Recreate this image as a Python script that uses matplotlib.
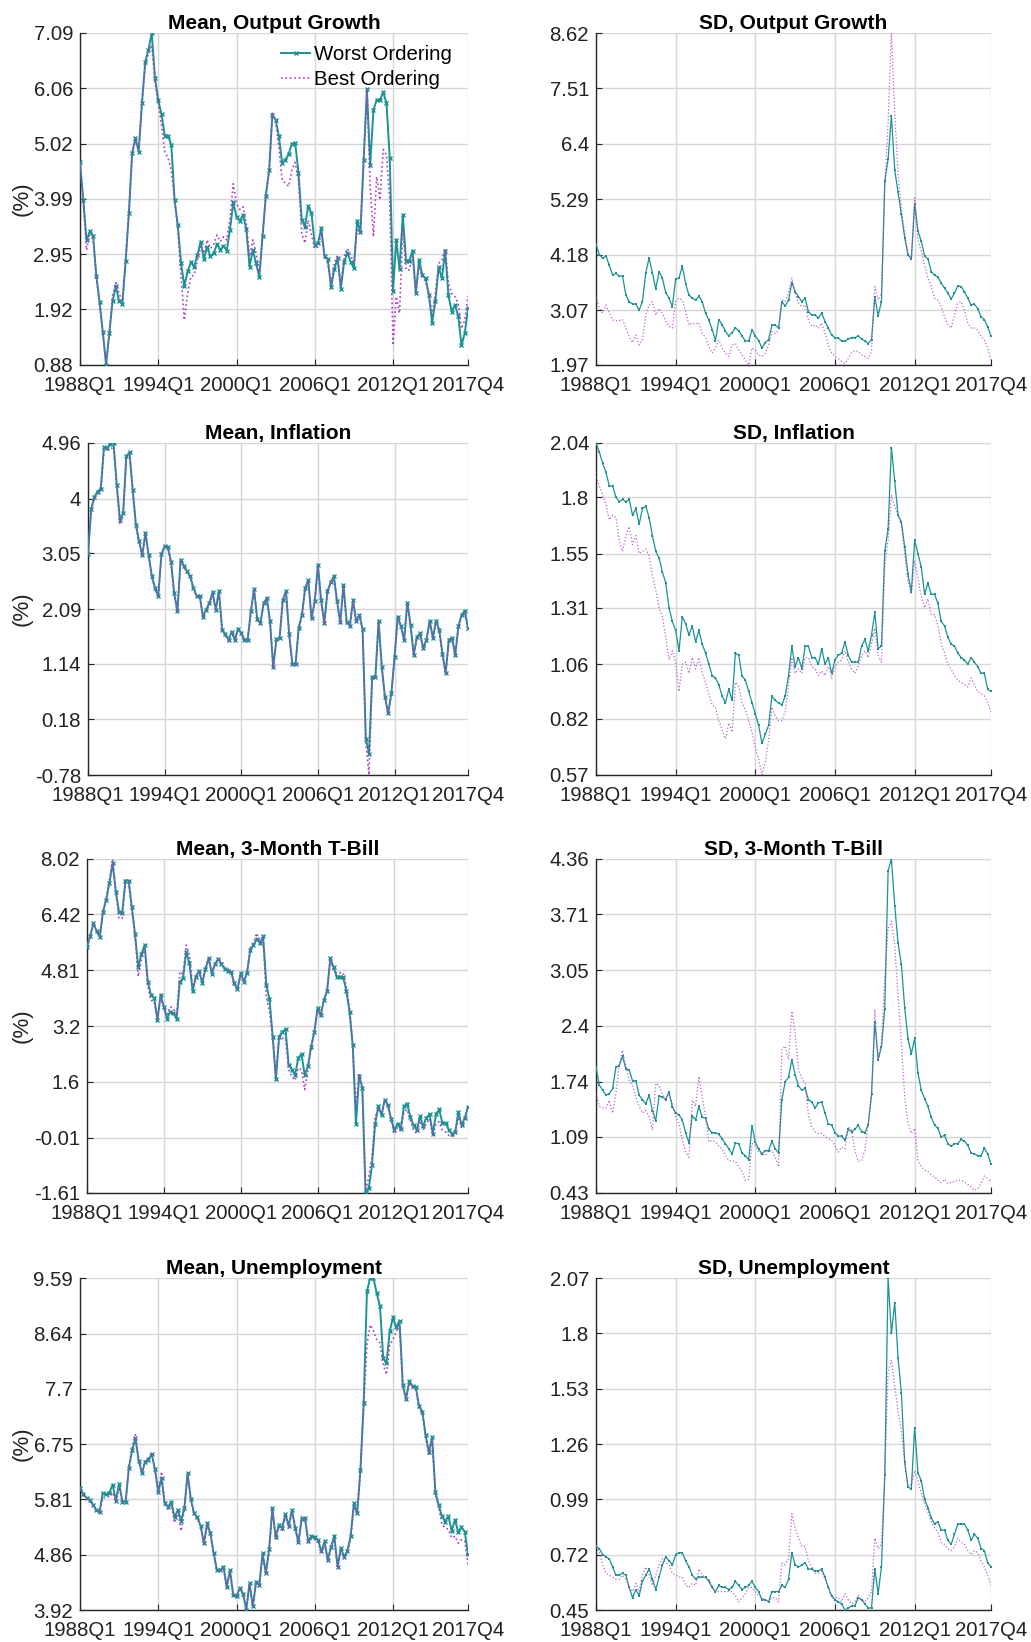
import numpy as np
import matplotlib
matplotlib.use("Agg")
import matplotlib.pyplot as plt

plt.rcParams['font.family'] = ['Liberation Sans', 'DejaVu Sans']

# quarterly sample 1988Q1 - 2017Q4
quarter_ticks = [0, 24, 48, 72, 96, 119]
quarter_labels = ['1988Q1', '1994Q1', '2000Q1', '2006Q1', '2012Q1', '2017Q4']

titles = ['Mean, Output Growth', 'SD, Output Growth',
          'Mean, Inflation', 'SD, Inflation',
          'Mean, 3-Month T-Bill', 'SD, 3-Month T-Bill',
          'Mean, Unemployment', 'SD, Unemployment']

ytick_labels = [
    ['0.88', '1.92', '2.95', '3.99', '5.02', '6.06', '7.09'],
    ['1.97', '3.07', '4.18', '5.29', '6.4', '7.51', '8.62'],
    ['-0.78', '0.18', '1.14', '2.09', '3.05', '4', '4.96'],
    ['0.57', '0.82', '1.06', '1.31', '1.55', '1.8', '2.04'],
    ['-1.61', '-0.01', '1.6', '3.2', '4.81', '6.42', '8.02'],
    ['0.43', '1.09', '1.74', '2.4', '3.05', '3.71', '4.36'],
    ['3.92', '4.86', '5.81', '6.75', '7.7', '8.64', '9.59'],
    ['0.45', '0.72', '0.99', '1.26', '1.53', '1.8', '2.07'],
]

# mean output growth
mog_worst = [4.67, 3.97, 3.21, 3.38, 3.30, 2.55, 2.06, 1.50, 0.88, 1.48,
             2.08, 2.35, 2.07, 2.03, 2.83, 3.73, 4.85, 5.12, 4.87, 5.78,
             6.55, 6.78, 7.09, 6.25, 5.83, 5.57, 5.17, 5.17, 5.00, 3.97,
             3.49, 2.78, 2.36, 2.63, 2.80, 2.72, 2.93, 3.19, 2.86, 3.09,
             2.91, 2.97, 3.14, 3.03, 3.11, 3.02, 3.41, 3.92, 3.65, 3.58,
             3.68, 3.43, 2.72, 3.03, 2.78, 2.53, 3.30, 4.05, 4.52, 5.56,
             5.47, 5.16, 4.66, 4.72, 4.83, 5.02, 5.03, 4.48, 3.60, 3.47,
             3.85, 3.72, 3.13, 3.16, 3.44, 2.91, 2.86, 2.33, 2.67, 2.88,
             2.31, 2.80, 2.98, 2.81, 2.69, 3.58, 3.36, 4.72, 6.04, 4.62,
             5.65, 5.84, 5.84, 5.98, 5.78, 4.75, 2.27, 3.22, 2.67, 3.69,
             2.83, 2.83, 3.02, 2.23, 2.85, 2.56, 2.50, 2.19, 1.67, 2.08,
             2.71, 2.50, 3.02, 2.18, 1.88, 2.00, 1.80, 1.25, 1.47, 1.94]
mog_best = [4.67, 3.97, 3.03, 3.34, 3.28, 2.53, 2.03, 1.47, 0.91, 1.47,
            2.19, 2.42, 2.22, 2.07, 2.84, 3.72, 4.84, 5.09, 4.90, 5.78,
            6.47, 6.72, 6.87, 6.18, 5.78, 5.37, 4.87, 4.75, 4.53, 3.97,
            3.41, 2.53, 1.72, 2.22, 2.53, 2.56, 2.84, 3.09, 2.97, 3.22,
            3.06, 3.13, 3.31, 3.19, 3.28, 3.22, 3.62, 4.27, 3.89, 3.79,
            3.84, 3.53, 2.91, 3.22, 2.97, 2.61, 3.27, 4.09, 4.47, 5.59,
            5.44, 4.94, 4.34, 4.28, 4.22, 4.53, 4.67, 4.34, 3.34, 3.16,
            3.59, 3.31, 3.06, 3.09, 3.34, 2.91, 2.78, 2.41, 2.78, 2.94,
            2.38, 2.91, 3.06, 2.94, 2.78, 3.44, 3.34, 4.72, 6.03, 4.22,
            3.28, 4.40, 3.97, 4.91, 4.81, 3.97, 1.25, 2.16, 1.85, 3.41,
            2.66, 2.66, 2.91, 2.22, 2.72, 2.53, 2.44, 2.22, 1.82, 2.22,
            2.78, 2.84, 3.06, 2.41, 2.22, 2.16, 2.03, 1.56, 1.72, 2.17]

# sd output growth
sog_worst = [4.39, 4.18, 4.11, 4.15, 3.97, 3.77, 3.81, 3.75, 3.75, 3.37,
             3.24, 3.19, 3.19, 3.07, 3.24, 3.82, 4.11, 3.82, 3.49, 3.84,
             3.71, 3.42, 3.31, 3.14, 3.69, 3.71, 3.95, 3.60, 3.37, 3.31,
             3.27, 3.35, 3.24, 3.01, 2.87, 2.68, 2.46, 2.88, 2.78, 2.65,
             2.55, 2.62, 2.72, 2.65, 2.55, 2.45, 2.45, 2.68, 2.55, 2.46,
             2.31, 2.42, 2.48, 2.77, 2.77, 2.71, 3.24, 3.15, 3.27, 3.62,
             3.44, 3.34, 3.24, 3.31, 3.04, 2.97, 2.97, 2.91, 3.01, 2.84,
             2.71, 2.57, 2.52, 2.51, 2.45, 2.45, 2.49, 2.52, 2.52, 2.55,
             2.49, 2.45, 2.40, 2.48, 3.33, 2.96, 3.24, 5.65, 6.09, 6.96,
             5.87, 5.43, 4.99, 4.52, 4.18, 4.09, 5.20, 4.65, 4.45, 4.15,
             4.10, 3.84, 3.77, 3.73, 3.61, 3.51, 3.41, 3.29, 3.41, 3.55,
             3.54, 3.44, 3.31, 3.17, 3.19, 3.10, 2.93, 2.88, 2.73, 2.55]
sog_best = [3.34, 3.10, 3.01, 3.17, 3.01, 2.87, 2.86, 2.86, 2.88, 2.71,
            2.54, 2.42, 2.57, 2.37, 2.47, 2.97, 3.17, 3.24, 2.97, 3.10,
            3.01, 2.84, 2.74, 2.71, 3.24, 3.31, 3.27, 3.04, 2.77, 2.81,
            2.79, 2.82, 2.60, 2.52, 2.34, 2.21, 2.31, 2.47, 2.31, 2.21,
            2.14, 2.37, 2.40, 2.27, 2.17, 2.07, 1.97, 2.31, 2.27, 2.17,
            2.14, 2.21, 2.37, 2.64, 2.60, 2.67, 3.27, 3.24, 3.41, 3.71,
            3.41, 3.21, 3.14, 3.17, 2.87, 2.74, 2.77, 2.71, 2.81, 2.60,
            2.37, 2.21, 2.14, 2.10, 2.04, 2.00, 2.10, 2.22, 2.26, 2.24,
            2.17, 2.14, 2.10, 2.24, 3.54, 3.27, 3.41, 5.55, 6.82, 8.62,
            7.01, 5.81, 5.08, 4.61, 4.21, 4.08, 5.32, 4.48, 4.24, 3.98,
            3.71, 3.54, 3.31, 3.27, 3.14, 2.94, 2.77, 2.71, 2.97, 3.21,
            3.24, 3.07, 2.81, 2.71, 2.71, 2.67, 2.54, 2.47, 2.31, 2.08]

# mean inflation
minf_worst = [3.04, 3.82, 4.03, 4.12, 4.17, 4.89, 4.87, 4.95, 4.96, 4.24,
              3.63, 3.75, 4.73, 4.80, 4.15, 3.55, 3.26, 3.02, 3.41, 3.02,
              2.66, 2.45, 2.31, 3.04, 3.18, 3.16, 2.91, 2.36, 2.05, 2.94,
              2.84, 2.74, 2.66, 2.46, 2.32, 2.31, 1.96, 2.08, 2.19, 2.38,
              2.08, 2.40, 1.73, 1.66, 1.56, 1.70, 1.56, 1.75, 1.67, 1.56,
              1.56, 2.05, 2.44, 1.91, 1.85, 2.19, 2.28, 1.88, 1.08, 1.57,
              1.59, 2.25, 2.40, 1.65, 1.14, 1.14, 1.77, 1.99, 2.45, 2.59,
              1.93, 2.22, 2.85, 2.24, 1.85, 2.40, 2.55, 2.66, 2.22, 1.86,
              2.51, 1.86, 1.80, 2.24, 1.88, 1.99, 1.74, -0.15, -0.41, 0.92,
              0.92, 1.89, 1.09, 0.57, 0.29, 0.63, 1.26, 1.96, 1.79, 1.56,
              2.20, 1.82, 1.30, 1.61, 1.67, 1.41, 1.56, 1.89, 1.59, 1.89,
              1.73, 1.32, 0.98, 1.56, 1.59, 1.30, 1.79, 1.99, 2.06, 1.76]
minf_best = [3.04, 3.80, 4.00, 4.08, 4.12, 4.84, 4.84, 4.85, 4.90, 4.20,
             3.55, 3.70, 4.70, 4.78, 4.12, 3.52, 3.24, 3.00, 3.40, 3.00,
             2.64, 2.43, 2.30, 3.02, 3.16, 3.14, 2.89, 2.34, 2.03, 2.92,
             2.82, 2.72, 2.64, 2.44, 2.30, 2.30, 1.94, 2.06, 2.17, 2.36,
             2.06, 2.38, 1.71, 1.63, 1.53, 1.68, 1.54, 1.73, 1.65, 1.54,
             1.54, 2.03, 2.42, 1.89, 1.83, 2.17, 2.26, 1.86, 1.06, 1.55,
             1.57, 2.23, 2.38, 1.63, 1.12, 1.12, 1.75, 1.97, 2.43, 2.57,
             1.91, 2.20, 2.83, 2.22, 1.83, 2.38, 2.53, 2.64, 2.20, 1.84,
             2.49, 1.84, 1.78, 2.22, 1.86, 1.97, 1.72, -0.20, -0.78, 0.88,
             0.90, 1.87, 1.07, 0.55, 0.27, 0.61, 1.24, 1.94, 1.77, 1.54,
             2.18, 1.80, 1.28, 1.59, 1.65, 1.39, 1.54, 1.87, 1.57, 1.87,
             1.71, 1.30, 0.96, 1.54, 1.57, 1.28, 1.77, 1.97, 2.04, 1.74]

# sd inflation
sinf_worst = [2.04, 2.00, 1.95, 1.91, 1.85, 1.85, 1.80, 1.78, 1.79, 1.78,
              1.79, 1.72, 1.75, 1.68, 1.75, 1.76, 1.71, 1.63, 1.56, 1.53,
              1.47, 1.42, 1.31, 1.25, 1.21, 1.12, 1.27, 1.24, 1.19, 1.23,
              1.16, 1.21, 1.15, 1.11, 1.06, 1.01, 1.00, 0.97, 0.92, 0.89,
              0.95, 0.90, 1.11, 1.10, 1.01, 0.99, 0.94, 0.89, 0.84, 0.79,
              0.71, 0.75, 0.79, 0.92, 0.90, 0.89, 0.88, 0.92, 1.01, 1.14,
              1.05, 1.09, 1.04, 1.14, 1.14, 1.09, 1.09, 1.06, 1.13, 1.06,
              1.09, 1.02, 1.08, 1.10, 1.11, 1.16, 1.10, 1.07, 1.07, 1.07,
              1.14, 1.17, 1.12, 1.19, 1.29, 1.13, 1.14, 1.56, 1.66, 2.02,
              1.87, 1.72, 1.69, 1.58, 1.46, 1.38, 1.61, 1.55, 1.49, 1.37,
              1.42, 1.37, 1.37, 1.33, 1.25, 1.23, 1.18, 1.15, 1.14, 1.11,
              1.09, 1.08, 1.06, 1.09, 1.07, 1.05, 1.02, 1.02, 0.95, 0.94]
sinf_best = [1.89, 1.85, 1.81, 1.77, 1.70, 1.72, 1.71, 1.61, 1.56, 1.63,
             1.67, 1.59, 1.63, 1.55, 1.56, 1.57, 1.54, 1.45, 1.39, 1.31,
             1.27, 1.18, 1.08, 1.12, 1.07, 0.94, 1.06, 1.07, 1.02, 1.09,
             1.04, 1.09, 1.02, 0.98, 0.93, 0.88, 0.87, 0.81, 0.77, 0.73,
             0.80, 0.76, 0.98, 0.96, 0.89, 0.86, 0.81, 0.76, 0.69, 0.64,
             0.57, 0.63, 0.72, 0.87, 0.83, 0.81, 0.81, 0.85, 0.97, 1.09,
             1.02, 1.04, 1.02, 1.09, 1.09, 1.05, 1.04, 1.01, 1.03, 1.01,
             1.05, 1.00, 1.05, 1.07, 1.08, 1.12, 1.07, 1.04, 1.02, 1.05,
             1.10, 1.12, 1.09, 1.15, 1.22, 1.10, 1.07, 1.50, 1.61, 1.81,
             1.76, 1.72, 1.68, 1.55, 1.43, 1.37, 1.52, 1.44, 1.36, 1.31,
             1.35, 1.28, 1.28, 1.23, 1.15, 1.11, 1.06, 1.04, 1.01, 0.99,
             0.98, 0.97, 0.96, 1.00, 0.97, 0.94, 0.93, 0.92, 0.89, 0.85]

# mean 3-month t-bill
mtb_worst = [5.48, 5.80, 6.17, 5.93, 5.78, 6.50, 6.84, 7.33, 7.90, 7.08,
             6.50, 6.47, 7.40, 7.40, 6.63, 5.86, 4.90, 5.28, 5.54, 4.48,
             4.10, 4.00, 3.38, 4.10, 3.76, 3.42, 3.62, 3.57, 3.40, 4.48,
             4.58, 5.35, 5.01, 4.20, 4.63, 4.80, 4.44, 4.84, 5.16, 4.71,
             5.00, 5.13, 5.00, 4.84, 4.80, 4.77, 4.44, 4.26, 4.73, 4.48,
             4.74, 5.40, 5.54, 5.71, 5.59, 5.80, 4.39, 3.98, 2.90, 1.67,
             2.90, 3.04, 3.11, 2.08, 1.95, 1.79, 2.29, 2.39, 1.79, 2.05,
             2.61, 3.04, 3.71, 3.52, 3.95, 4.21, 5.16, 4.90, 4.63, 4.63,
             4.61, 4.22, 3.62, 2.65, 0.39, 1.76, 1.43, -1.61, -1.48, -0.81,
             0.39, 0.89, 0.63, 1.08, 0.92, 0.53, 0.20, 0.39, 0.23, 0.89,
             0.97, 0.58, 0.34, 0.20, 0.60, 0.31, 0.56, 0.66, 0.10, 0.66,
             0.80, 0.41, 0.41, 0.22, 0.09, 0.15, 0.73, 0.34, 0.56, 0.87]
mtb_best = [5.48, 5.80, 6.17, 5.93, 5.78, 6.50, 6.90, 7.40, 8.02, 7.08,
            6.31, 6.31, 7.35, 7.35, 6.55, 5.80, 4.63, 5.15, 5.45, 4.35,
            3.95, 3.90, 3.40, 4.05, 3.70, 3.55, 3.76, 3.70, 3.50, 4.77,
            4.70, 5.54, 5.25, 4.34, 4.55, 4.78, 4.50, 4.90, 5.15, 4.75,
            4.98, 5.15, 5.05, 4.90, 4.85, 4.80, 4.40, 4.30, 4.65, 4.50,
            4.78, 5.45, 5.60, 5.88, 5.62, 5.75, 4.04, 3.62, 2.85, 1.75,
            2.85, 2.85, 2.85, 1.94, 1.75, 1.64, 1.99, 1.94, 1.37, 1.94,
            2.55, 3.04, 3.65, 3.50, 3.95, 4.25, 5.15, 4.82, 4.73, 4.74,
            4.74, 4.34, 3.75, 2.60, 0.90, 1.80, 1.40, -1.55, -1.15, -0.57,
            0.58, 0.82, 0.69, 1.06, 0.87, 0.48, 0.10, 0.29, 0.20, 0.73,
            0.80, 0.48, 0.20, 0.10, 0.48, 0.20, 0.39, 0.53, 0.05, 0.39,
            0.44, 0.20, 0.15, 0.05, 0.02, 0.12, 0.58, 0.29, 0.48, 0.82]

# sd 3-month t-bill
stb_worst = [1.91, 1.70, 1.64, 1.58, 1.60, 1.66, 1.91, 1.93, 2.04, 1.89,
             1.88, 1.75, 1.75, 1.58, 1.53, 1.48, 1.58, 1.40, 1.28, 1.57,
             1.56, 1.53, 1.62, 1.44, 1.37, 1.35, 1.29, 1.14, 1.02, 1.34,
             1.29, 1.45, 1.32, 1.31, 1.18, 1.14, 1.14, 1.12, 1.07, 1.01,
             0.95, 0.89, 1.02, 1.01, 0.90, 0.87, 0.82, 1.22, 1.03, 0.95,
             0.89, 0.93, 0.93, 1.04, 0.95, 0.90, 1.53, 1.74, 1.79, 2.00,
             1.82, 1.69, 1.64, 1.66, 1.53, 1.50, 1.43, 1.49, 1.50, 1.37,
             1.24, 1.23, 1.14, 1.10, 1.10, 1.05, 1.18, 1.15, 1.18, 1.23,
             1.15, 1.14, 1.23, 1.59, 2.44, 2.00, 2.15, 2.60, 4.22, 4.36,
             3.81, 3.37, 3.12, 2.61, 2.24, 2.07, 2.25, 1.84, 1.64, 1.54,
             1.45, 1.32, 1.23, 1.19, 1.09, 1.11, 1.01, 0.98, 1.01, 1.01,
             1.06, 1.04, 0.99, 0.90, 0.89, 0.87, 0.87, 0.96, 0.89, 0.77]
stb_best = [1.60, 1.45, 1.43, 1.43, 1.52, 1.37, 1.60, 1.94, 2.11, 1.92,
            1.76, 1.70, 1.56, 1.45, 1.37, 1.40, 1.33, 1.17, 1.72, 1.69,
            1.60, 1.52, 1.60, 1.48, 1.33, 1.25, 1.05, 0.91, 0.85, 1.52,
            1.45, 1.80, 1.56, 1.33, 1.03, 1.05, 1.03, 0.98, 0.95, 0.87,
            0.81, 0.81, 0.80, 0.74, 0.68, 0.58, 0.59, 1.01, 0.99, 0.91,
            0.89, 0.87, 0.93, 0.93, 0.85, 0.74, 2.12, 2.16, 2.00, 2.57,
            2.31, 1.88, 1.78, 1.72, 1.35, 1.21, 1.15, 1.13, 1.13, 1.09,
            1.07, 1.05, 0.99, 0.91, 0.97, 0.95, 1.21, 1.17, 0.93, 0.80,
            0.81, 0.93, 1.25, 1.56, 2.59, 2.00, 2.19, 2.96, 3.54, 3.63,
            3.34, 2.75, 2.19, 1.56, 1.25, 1.13, 1.19, 0.81, 0.74, 0.70,
            0.68, 0.64, 0.62, 0.58, 0.55, 0.59, 0.54, 0.56, 0.56, 0.58,
            0.58, 0.56, 0.53, 0.50, 0.46, 0.48, 0.54, 0.63, 0.60, 0.56]

# mean unemployment
mun_worst = [6.01, 5.90, 5.84, 5.80, 5.72, 5.63, 5.60, 5.92, 5.90, 5.92,
             6.06, 5.79, 6.08, 5.77, 5.77, 6.35, 6.65, 6.85, 6.47, 6.26,
             6.45, 6.49, 6.58, 6.32, 5.94, 6.17, 5.74, 5.68, 5.77, 5.50,
             5.63, 5.44, 5.66, 6.26, 5.81, 5.57, 5.50, 5.36, 5.06, 5.40,
             5.23, 4.89, 4.60, 4.60, 4.66, 4.32, 4.60, 4.18, 4.16, 4.29,
             4.20, 3.92, 4.38, 3.98, 4.40, 4.35, 4.89, 4.55, 4.96, 5.66,
             5.16, 5.38, 5.32, 5.56, 5.36, 5.63, 5.32, 5.08, 5.48, 5.49,
             5.09, 5.18, 5.16, 5.12, 4.92, 5.09, 4.78, 5.00, 5.18, 4.66,
             4.98, 4.83, 4.93, 5.18, 5.74, 5.57, 6.31, 7.45, 9.36, 9.59,
             9.59, 9.33, 9.11, 8.22, 8.14, 8.68, 8.92, 8.75, 8.86, 7.76,
             7.53, 7.83, 7.74, 7.72, 7.40, 7.31, 6.91, 6.62, 6.87, 5.93,
             5.72, 5.52, 5.43, 5.52, 5.27, 5.46, 5.25, 5.33, 5.26, 4.87]
mun_best = [6.01, 5.88, 5.82, 5.78, 5.70, 5.62, 5.58, 5.84, 5.84, 5.86,
            5.93, 5.76, 6.02, 5.76, 5.76, 6.38, 6.70, 6.91, 6.50, 6.28,
            6.48, 6.52, 6.60, 6.30, 5.92, 6.28, 5.72, 5.65, 5.72, 5.41,
            5.60, 5.27, 5.62, 6.22, 5.80, 5.55, 5.48, 5.34, 5.04, 5.38,
            5.20, 4.88, 4.60, 4.58, 4.64, 4.30, 4.58, 4.16, 4.14, 4.26,
            4.18, 3.93, 4.36, 3.98, 4.38, 4.33, 4.86, 4.52, 4.92, 5.62,
            5.12, 5.34, 5.28, 5.52, 5.32, 5.60, 5.30, 5.06, 5.52, 5.50,
            5.06, 5.14, 5.12, 5.10, 4.88, 5.05, 4.74, 4.98, 5.14, 4.62,
            4.94, 4.80, 4.90, 5.14, 5.70, 5.55, 6.28, 7.37, 8.45, 8.79,
            8.69, 8.54, 8.48, 8.11, 7.94, 8.45, 8.54, 8.67, 8.79, 7.74,
            7.50, 7.80, 7.72, 7.70, 7.36, 7.27, 6.87, 6.58, 6.82, 5.90,
            5.68, 5.38, 5.32, 5.30, 5.15, 5.18, 5.06, 5.12, 5.10, 4.69]

# sd unemployment
sun_worst = [0.76, 0.75, 0.72, 0.71, 0.70, 0.66, 0.62, 0.62, 0.63, 0.62,
             0.56, 0.51, 0.55, 0.52, 0.59, 0.62, 0.65, 0.60, 0.55, 0.61,
             0.67, 0.71, 0.69, 0.67, 0.72, 0.73, 0.73, 0.69, 0.66, 0.62,
             0.60, 0.61, 0.61, 0.61, 0.59, 0.56, 0.54, 0.57, 0.56, 0.56,
             0.55, 0.56, 0.59, 0.57, 0.55, 0.56, 0.57, 0.59, 0.56, 0.54,
             0.50, 0.50, 0.49, 0.54, 0.54, 0.54, 0.57, 0.56, 0.60, 0.73,
             0.67, 0.66, 0.67, 0.68, 0.65, 0.65, 0.64, 0.64, 0.65, 0.61,
             0.56, 0.52, 0.50, 0.49, 0.48, 0.45, 0.46, 0.47, 0.47, 0.51,
             0.50, 0.48, 0.46, 0.46, 0.65, 0.53, 0.66, 1.11, 2.07, 1.80,
             1.95, 1.68, 1.51, 1.17, 1.05, 1.04, 1.34, 1.12, 1.08, 0.99,
             0.95, 0.90, 0.87, 0.88, 0.84, 0.84, 0.79, 0.77, 0.82, 0.87,
             0.87, 0.87, 0.84, 0.79, 0.82, 0.80, 0.75, 0.74, 0.68, 0.66]
sun_best = [0.76, 0.73, 0.67, 0.63, 0.62, 0.61, 0.60, 0.60, 0.62, 0.60,
            0.56, 0.54, 0.58, 0.54, 0.62, 0.66, 0.62, 0.57, 0.62, 0.67,
            0.70, 0.68, 0.67, 0.63, 0.62, 0.61, 0.61, 0.57, 0.56, 0.58,
            0.57, 0.65, 0.62, 0.61, 0.60, 0.56, 0.54, 0.54, 0.54, 0.54,
            0.54, 0.54, 0.52, 0.49, 0.51, 0.53, 0.56, 0.56, 0.54, 0.52,
            0.51, 0.50, 0.49, 0.51, 0.51, 0.49, 0.68, 0.67, 0.70, 0.92,
            0.85, 0.80, 0.76, 0.76, 0.69, 0.66, 0.63, 0.63, 0.64, 0.60,
            0.56, 0.51, 0.51, 0.51, 0.49, 0.53, 0.50, 0.48, 0.49, 0.52,
            0.50, 0.49, 0.51, 0.54, 0.80, 0.75, 0.77, 1.11, 1.61, 1.67,
            1.54, 1.42, 1.32, 1.17, 1.06, 1.06, 1.13, 1.08, 1.02, 0.97,
            0.93, 0.88, 0.85, 0.83, 0.78, 0.77, 0.75, 0.74, 0.76, 0.80,
            0.78, 0.77, 0.74, 0.72, 0.74, 0.73, 0.69, 0.66, 0.62, 0.57]

worst = [mog_worst, sog_worst, minf_worst, sinf_worst,
         mtb_worst, stb_worst, mun_worst, sun_worst]
best = [mog_best, sog_best, minf_best, sinf_best,
        mtb_best, stb_best, mun_best, sun_best]

for w, b in zip(worst, best):
    assert len(w) == 120 and len(b) == 120, (len(w), len(b))

W, H = 1031, 1642
# axes boxes in pixels: left, top, right, bottom
boxes = [(80, 33, 468, 365), (596, 33, 991, 365),
         (88, 443, 468, 775), (596, 443, 991, 775),
         (87, 859, 468, 1193), (596, 859, 991, 1193),
         (80, 1278, 468, 1610), (596, 1278, 991, 1610)]

teal = '#1a9393'
magenta = '#b03cc2'
axis_col = '#262626'
text_col = '#222222'

fig = plt.figure(figsize=(W / 100, H / 100), dpi=100)
x = np.arange(120)

for k in range(8):
    l, t, r, b_ = boxes[k]
    ax = fig.add_axes([l / W, 1 - b_ / H, (r - l) / W, (b_ - t) / H])
    left = k % 2 == 0
    if left:
        ax.plot(x, worst[k], '-', color=teal, lw=1.4, marker='x', ms=3.5,
                mew=1.0, label='Worst Ordering', zorder=3)
        ax.plot(x, best[k], ':', color=magenta, lw=1.2,
                label='Best Ordering', zorder=4)
    else:
        ax.plot(x, worst[k], '-', color=teal, lw=0.9, marker='s', ms=1.6,
                mew=0, label='Worst Ordering', zorder=3)
        ax.plot(x, best[k], ':', color=magenta, lw=0.9, alpha=0.8,
                label='Best Ordering', zorder=4)

    labels = ytick_labels[k]
    vals = [float(s) for s in labels]
    ax.set_ylim(vals[0], vals[-1])
    ax.set_yticks(vals)
    ax.set_yticklabels(labels)
    ax.set_xlim(0, 119)
    ax.set_xticks(quarter_ticks)
    ax.set_xticklabels(quarter_labels)

    ax.grid(True, color='#d6d6d6', lw=1.0)
    ax.set_axisbelow(True)
    for s in ['top', 'right']:
        ax.spines[s].set_visible(False)
    for s in ['left', 'bottom']:
        ax.spines[s].set_color(axis_col)
        ax.spines[s].set_linewidth(1.0)
    ax.tick_params(direction='in', length=4, width=0.8, colors=axis_col,
                   labelsize=14.7, labelcolor=text_col)
    ax.tick_params(axis='y', pad=5)
    ax.tick_params(axis='x', pad=8)
    ax.set_title(titles[k], fontsize=15, fontweight='bold', pad=3)
    if left:
        fig.text(22 / W, 1 - (t + b_) / 2 / H, '(%)', rotation=90,
                 ha='center', va='center', fontsize=16, color=text_col)

    if k == 0:
        ax.legend(loc='upper right', frameon=False, fontsize=14.7,
                  handlelength=1.4, handletextpad=0.2, labelspacing=0.3,
                  borderaxespad=0.2, bbox_to_anchor=(0.99, 1.0))

fig.savefig('out.png', dpi=100)
